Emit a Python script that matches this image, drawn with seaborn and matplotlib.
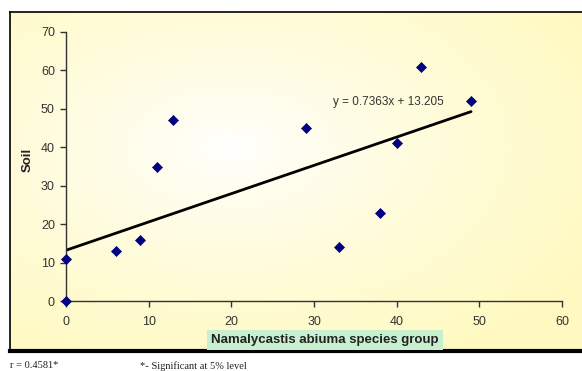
import numpy as np
import matplotlib
matplotlib.use("Agg")
import matplotlib.pyplot as plt
import seaborn as sns

# Data
species_group = [0, 0, 6, 9, 11, 13, 29, 33, 38, 40, 43, 49]
soil = [0, 11, 13, 16, 35, 47, 45, 14, 23, 41, 61, 52]
slope = 0.7363
intercept = 13.205
x_ticks = [0, 10, 20, 30, 40, 50, 60]
y_ticks = [0, 10, 20, 30, 40, 50, 60, 70]

sns.set_theme(style="white")
plt.rcParams['font.family'] = ['Liberation Sans', 'DejaVu Sans']

W, H = 582, 371
fig = plt.figure(figsize=(W / 100, H / 100), dpi=100)
fig.patch.set_facecolor("white")

# frame with gradient background
fl, ft, fb = 10, 12, 351
bg = fig.add_axes([fl / W, (H - fb) / H, 1 - fl / W + 0.01, (fb - ft) / H])
yy, xx = np.mgrid[0:1:200j, 0:1:300j]
d = np.sqrt(((xx - 0.38) / 0.7) ** 2 + ((yy - 0.4) / 0.7) ** 2)
d = np.clip(d, 0, 1) ** 0.8
white = np.array([1.0, 1.0, 1.0])
yellow = np.array([1.0, 0.98, 0.76])
img = white[None, None, :] * (1 - d[..., None]) + yellow[None, None, :] * d[..., None]
bg.imshow(img, extent=[0, 1, 0, 1], aspect="auto", origin="upper")
bg.set_xlim(0, 1)
bg.set_ylim(0, 1)
bg.set_xticks([])
bg.set_yticks([])
for s in bg.spines.values():
    s.set_color("black")
    s.set_linewidth(1.2)
bg.spines["bottom"].set_linewidth(3)
bg.spines["right"].set_visible(False)

# main axes
x0, x1 = 66, 562
y0, y1 = 301, 32
ax = fig.add_axes([x0 / W, (H - y0) / H, (x1 - x0) / W, (y0 - y1) / H])
ax.patch.set_alpha(0)

sns.scatterplot(x=species_group, y=soil, ax=ax, marker="D", s=26,
                color="#000080", edgecolor="#000080", linewidth=0.5, zorder=3,
                clip_on=False)
xl = np.array([min(species_group), max(species_group)])
ax.plot(xl, slope * xl + intercept, color="black", lw=2, zorder=2)

ax.set_xlim(0, 60)
ax.set_ylim(0, 70)
ax.set_xticks(x_ticks)
ax.set_yticks(y_ticks)
ax.tick_params(axis="both", direction="out", length=4, width=1, color="#333333",
               labelsize=9, labelcolor="#333333", pad=4, left=True, bottom=True)
ax.tick_params(axis="x", pad=7)
for s in ["top", "right"]:
    ax.spines[s].set_visible(False)
for s in ["left", "bottom"]:
    ax.spines[s].set_color("#333333")
    ax.spines[s].set_linewidth(1)

ax.text((333 - x0) / (x1 - x0), (y0 - 102) / (y0 - y1), f"y = {slope}x + {intercept}",
        transform=ax.transAxes, fontsize=8.5, color="#333333", ha="left", va="center")

# x label with green box
fig.text(325 / W, 1 - 340 / H, "Namalycastis abiuma species group",
         ha="center", va="center", fontsize=9.5, fontweight="bold", color="#222222",
         bbox=dict(boxstyle="square,pad=0.3", facecolor="#c8f0d0", edgecolor="none"))
fig.text(28 / W, 1 - 160 / H, "Soil", rotation=90, ha="center", va="center",
         fontsize=9.5, fontweight="bold", color="#222222")

fig.text(10 / W, 1 - 366 / H, "r = 0.4581*", fontsize=7.5, family=["Liberation Serif", "DejaVu Serif"],
         ha="left", va="center", color="#222222")
fig.text(140 / W, 1 - 366 / H, "*- Significant at 5% level", fontsize=7.5,
         family=["Liberation Serif", "DejaVu Serif"], ha="left", va="center", color="#222222")

fig.savefig("out.png", dpi=100)
